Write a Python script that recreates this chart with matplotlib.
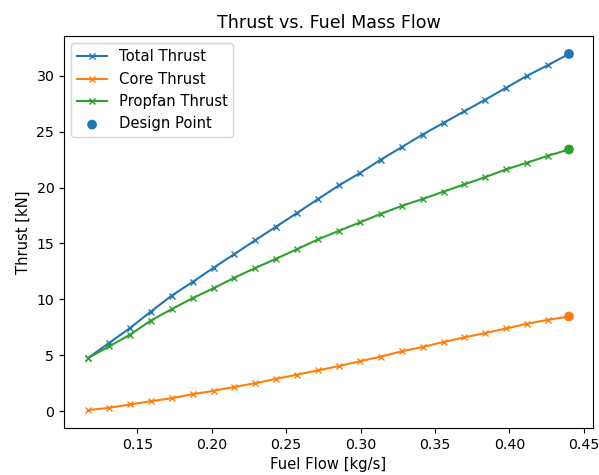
import matplotlib
matplotlib.use("Agg")
import matplotlib.pyplot as plt
import numpy as np

# fuel flow sweep [kg/s]
fuel_flow = np.linspace(0.117, 0.44, 24)

# thrust values [kN]
total_thrust = [4.76, 6.10, 7.43, 8.91, 10.34, 11.56, 12.83, 14.06, 15.30, 16.52, 17.74, 18.98,
                20.20, 21.30, 22.50, 23.62, 24.75, 25.79, 26.83, 27.87, 28.94, 30.01, 30.96, 31.96]
core_thrust = [0.09, 0.30, 0.60, 0.89, 1.16, 1.52, 1.82, 2.17, 2.50, 2.89, 3.27, 3.65,
               4.04, 4.46, 4.88, 5.35, 5.74, 6.19, 6.60, 6.99, 7.40, 7.82, 8.17, 8.47]
propfan_thrust = [4.76, 5.79, 6.84, 8.11, 9.13, 10.11, 11.00, 11.94, 12.81, 13.64, 14.50, 15.37,
                  16.14, 16.88, 17.65, 18.36, 18.98, 19.64, 20.29, 20.94, 21.63, 22.23, 22.85, 23.41]

# design point sits at the end of the sweep
design_flow = fuel_flow[-1]
design_thrust = [total_thrust[-1], core_thrust[-1], propfan_thrust[-1]]

plt.rcParams['font.size'] = 10.6
plt.rcParams['xtick.labelsize'] = 10.2
plt.rcParams['ytick.labelsize'] = 10.2

fig = plt.figure(figsize=(5.99, 4.75), dpi=100)
ax = fig.add_axes([0.107, 0.099, 0.883, 0.825])

ax.plot(fuel_flow, total_thrust, marker='x', markersize=5, label='Total Thrust')
ax.plot(fuel_flow, core_thrust, marker='x', markersize=5, label='Core Thrust')
ax.plot(fuel_flow, propfan_thrust, marker='x', markersize=5, label='Propfan Thrust')
ax.scatter([design_flow] * 3, design_thrust, c=['C0', 'C1', 'C2'], label='Design Point', zorder=3)

ax.set_title('Thrust vs. Fuel Mass Flow', fontsize=12.6)
ax.set_xlabel('Fuel Flow [kg/s]')
ax.set_ylabel('Thrust [kN]')
ax.legend(loc='upper left')

fig.savefig('out.png', dpi=100)
